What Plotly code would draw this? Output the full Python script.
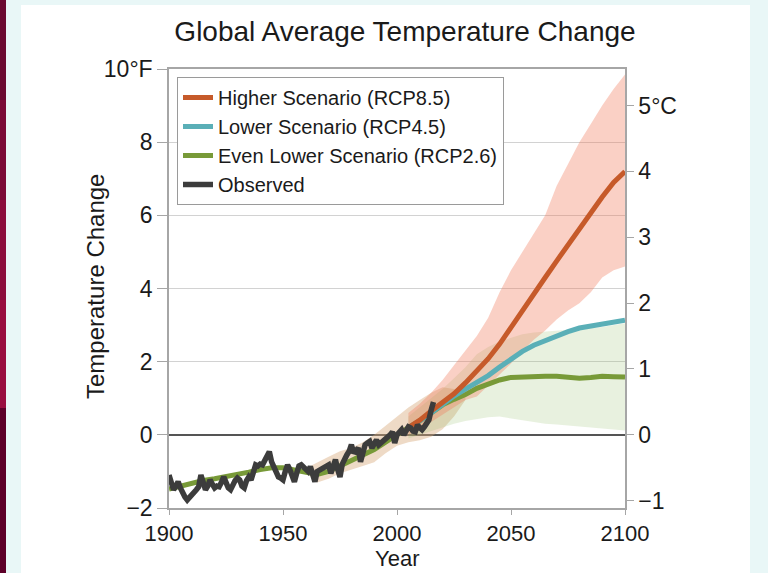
import plotly.graph_objects as go

# ---------------- data ----------------
obs_years = list(range(1900, 2017))
obs_vals = [-1.10, -1.35, -1.50, -1.40, -1.28, -1.45, -1.60, -1.70, -1.78, -1.72,
            -1.64, -1.58, -1.50, -1.42, -1.10, -1.30, -1.50, -1.40, -1.23, -1.35,
            -1.45, -1.40, -1.42, -1.30, -1.15, -1.30, -1.45, -1.50, -1.35, -1.25,
            -1.18, -1.23, -1.40, -1.45, -1.25, -1.15, -1.23, -1.05, -0.82, -0.85,
            -0.80, -0.82, -0.68, -0.55, -0.46, -0.74, -0.90, -1.00, -1.15, -1.18,
            -1.23, -1.00, -0.82, -0.95, -1.10, -1.28, -1.05, -0.85, -0.82, -0.90,
            -0.95, -1.00, -0.87, -1.05, -1.28, -1.00, -0.96, -0.92, -0.90, -0.85,
            -0.82, -1.05, -0.85, -0.68, -0.95, -1.15, -0.80, -0.64, -0.55, -0.45,
            -0.27, -0.50, -0.40, -0.36, -0.74, -0.45, -0.27, -0.22, -0.18, -0.36,
            -0.20, -0.14, -0.27, -0.22, -0.14, -0.12, -0.08, 0.00, 0.08, -0.22,
            0.00, 0.08, 0.14, 0.00, 0.10, 0.22, 0.19, 0.10, 0.08, 0.27,
            0.20, 0.14, 0.22, 0.30, 0.41, 0.68, 0.90]

rcp26_years = list(range(1900, 2101, 5))
rcp26_vals = [-1.48, -1.40, -1.30, -1.25, -1.20, -1.15, -1.10, -1.02, -0.95, -0.90,
              -0.90, -0.95, -1.02, -1.08, -1.00, -0.85, -0.70, -0.55, -0.40, -0.20,
              0.02, 0.20, 0.38, 0.60, 0.82, 0.97, 1.10, 1.27, 1.40, 1.50,
              1.57, 1.59, 1.60, 1.60, 1.60, 1.58, 1.55, 1.57, 1.60, 1.59, 1.58]

fut_years = list(range(2005, 2101, 5))
rcp45_vals = [0.20, 0.38, 0.60, 0.85, 1.06, 1.25, 1.42, 1.62, 1.85, 2.08,
              2.28, 2.45, 2.58, 2.70, 2.82, 2.92, 2.97, 3.01, 3.06, 3.13]
rcp85_vals = [0.20, 0.40, 0.65, 0.90, 1.12, 1.42, 1.75, 2.08, 2.48, 2.95,
              3.40, 3.85, 4.30, 4.75, 5.20, 5.65, 6.05, 6.50, 6.90, 7.20]

rcp85_hi = [0.60, 0.85, 1.15, 1.50, 1.90, 2.30, 2.70, 3.20, 3.90, 4.50,
            5.00, 5.50, 6.00, 6.80, 7.40, 8.00, 8.50, 9.00, 9.45, 9.85]
rcp85_lo = [0.00, 0.15, 0.35, 0.55, 0.75, 0.95, 1.05, 1.35, 1.65, 1.95,
            2.30, 2.60, 2.85, 3.15, 3.40, 3.60, 3.90, 4.30, 4.50, 4.60]
rcp26_hi = [0.50, 0.75, 1.00, 1.25, 1.55, 1.85, 2.20, 2.40, 2.55, 2.65,
            2.75, 2.80, 2.82, 2.85, 2.88, 2.90, 2.92, 2.95, 3.00, 3.05]
rcp26_lo = [-0.10, 0.00, 0.10, 0.20, 0.30, 0.38, 0.43, 0.48, 0.50, 0.45,
            0.38, 0.35, 0.30, 0.28, 0.26, 0.24, 0.20, 0.18, 0.15, 0.12]

hist_years = [1962, 1965, 1970, 1975, 1980, 1985, 1990, 1995, 2000, 2005, 2010, 2015, 2020, 2025, 2030]
hist_hi = [-0.85, -0.75, -0.60, -0.45, -0.35, -0.20, 0.00, 0.25, 0.50, 0.75, 0.95, 1.15, 1.30, 1.25, 1.05]
hist_lo = [-1.15, -1.30, -1.20, -1.05, -0.95, -0.85, -0.75, -0.50, -0.30, -0.20, -0.15, -0.05, 0.15, 0.50, 0.95]

f_ticks = [-2, 0, 2, 4, 6, 8, 10]
f_labels = ["−2", "0", "2", "4", "6", "8", "10°F"]
c_ticks = [-1, 0, 1, 2, 3, 4, 5]
c_labels = ["−1", "0", "1", "2", "3", "4", "5°C"]
x_ticks = [1900, 1950, 2000, 2050, 2100]

names = ["Higher Scenario (RCP8.5)", "Lower Scenario (RCP4.5)",
         "Even Lower Scenario (RCP2.6)", "Observed"]

# ---------------- styling ----------------
FONT = "Liberation Sans, Arial, sans-serif"
RED = "#c65a2a"
BLUE = "#5aafb7"
GREEN = "#789a38"
OBS = "#3c3c3c"
AX = "#a6a6a6"
TXT = "#1a1a1a"

W, H = 768, 573
L, R, T, B = 169, 625, 69, 508


def px2x(p):
    return (p - L) / (R - L)


def px2y(p):
    return (B - p) / (B - T)


fig = go.Figure()


def band(xs, hi, lo, color):
    fig.add_trace(go.Scatter(x=xs + xs[::-1], y=hi + lo[::-1], fill="toself",
                             fillcolor=color, line=dict(width=0), mode="lines",
                             showlegend=False, hoverinfo="skip"))


band(hist_years, hist_hi, hist_lo, "rgba(214,168,120,0.42)")
band(fut_years, rcp26_hi, rcp26_lo, "rgba(150,190,110,0.22)")
band(fut_years, rcp85_hi, rcp85_lo, "rgba(240,120,90,0.35)")

fig.add_trace(go.Scatter(x=rcp26_years, y=rcp26_vals, mode="lines", name=names[2],
                         line=dict(color=GREEN, width=5), legendrank=3))
fig.add_trace(go.Scatter(x=fut_years, y=rcp45_vals, mode="lines", name=names[1],
                         line=dict(color=BLUE, width=5), legendrank=2))
fig.add_trace(go.Scatter(x=fut_years, y=rcp85_vals, mode="lines", name=names[0],
                         line=dict(color=RED, width=5), legendrank=1))
fig.add_trace(go.Scatter(x=obs_years, y=obs_vals, mode="lines", name=names[3],
                         line=dict(color=OBS, width=5.5), legendrank=4))
# invisible trace to anchor the Celsius axis
fig.add_trace(go.Scatter(x=[1900], y=[0], yaxis="y2", mode="markers",
                         marker=dict(opacity=0), showlegend=False, hoverinfo="skip"))

shapes = []
# page decoration
shapes.append(dict(type="rect", xref="paper", yref="paper", x0=px2x(0), x1=px2x(W),
                   y0=px2y(0), y1=px2y(5), fillcolor="#e9f7f7", line=dict(width=0), layer="below"))
shapes.append(dict(type="rect", xref="paper", yref="paper", x0=px2x(6), x1=px2x(21),
                   y0=px2y(0), y1=px2y(H), fillcolor="#e9f7f7", line=dict(width=0), layer="below"))
shapes.append(dict(type="rect", xref="paper", yref="paper", x0=px2x(750), x1=px2x(W),
                   y0=px2y(0), y1=px2y(H), fillcolor="#e9f7f7", line=dict(width=0), layer="below"))
for (a, b, c) in [(0, 100, "#6b0a31"), (100, 200, "#7b0b37"), (200, 300, "#8b0d3c"),
                  (300, 408, "#990e40"), (408, H, "#5d0029")]:
    shapes.append(dict(type="rect", xref="paper", yref="paper", x0=px2x(0), x1=px2x(6),
                       y0=px2y(b), y1=px2y(a), fillcolor=c, line=dict(width=0), layer="below"))

fig.update_layout(
    width=W, height=H,
    margin=dict(l=L, r=W - R, t=T, b=H - B),
    paper_bgcolor="white", plot_bgcolor="white",
    font=dict(family=FONT, color=TXT),
    title=dict(text="Global Average Temperature Change", font=dict(size=28, family=FONT, color=TXT),
               x=405 / W, xanchor="center", y=1 - 31 / H, yanchor="middle", xref="container", yref="container"),
    showlegend=True,
    legend=dict(x=px2x(177), y=px2y(77), xanchor="left", yanchor="top",
                bgcolor="white", bordercolor="#9a9a9a", borderwidth=1,
                font=dict(size=20, family=FONT, color=TXT),
                tracegroupgap=0, itemwidth=30),
    xaxis=dict(range=[1900, 2100], tickvals=x_ticks, ticks="outside", ticklen=5, tickcolor=AX,
               showline=True, linecolor=AX, linewidth=1.5, mirror=True, showgrid=False, zeroline=False,
               tickfont=dict(size=22, family=FONT, color=TXT)),
    yaxis=dict(range=[-2, 10], tickvals=f_ticks, ticktext=f_labels, ticks="outside", ticklen=10,
               tickcolor=AX, showline=True, linecolor=AX, linewidth=1.5, showgrid=True,
               gridcolor="#d2d2d2", gridwidth=1, zeroline=True, zerolinecolor="#555555",
               zerolinewidth=1.5, tickfont=dict(size=23, family=FONT, color=TXT)),
    yaxis2=dict(range=[-2 / 1.8, 10 / 1.8], overlaying="y", side="right", tickvals=c_ticks,
                ticktext=c_labels, ticks="outside", ticklen=7, tickcolor=AX, showline=True,
                linecolor=AX, linewidth=1.5, showgrid=False, zeroline=False,
                tickfont=dict(size=23, family=FONT, color=TXT)),
    shapes=shapes,
    annotations=[
        dict(text="Temperature Change", xref="paper", yref="paper", x=px2x(95), y=px2y(287),
             textangle=-90, showarrow=False, font=dict(size=24, family=FONT, color=TXT),
             xanchor="center", yanchor="middle"),
        dict(text="Year", xref="paper", yref="paper", x=px2x(397), y=px2y(572),
             showarrow=False, font=dict(size=22, family=FONT, color=TXT),
             xanchor="center", yanchor="bottom", borderpad=0),
    ],
)

fig.write_html("out.html", config={"displayModeBar": False},
               post_script="document.body.style.margin='0px';document.body.style.overflow='hidden';")
